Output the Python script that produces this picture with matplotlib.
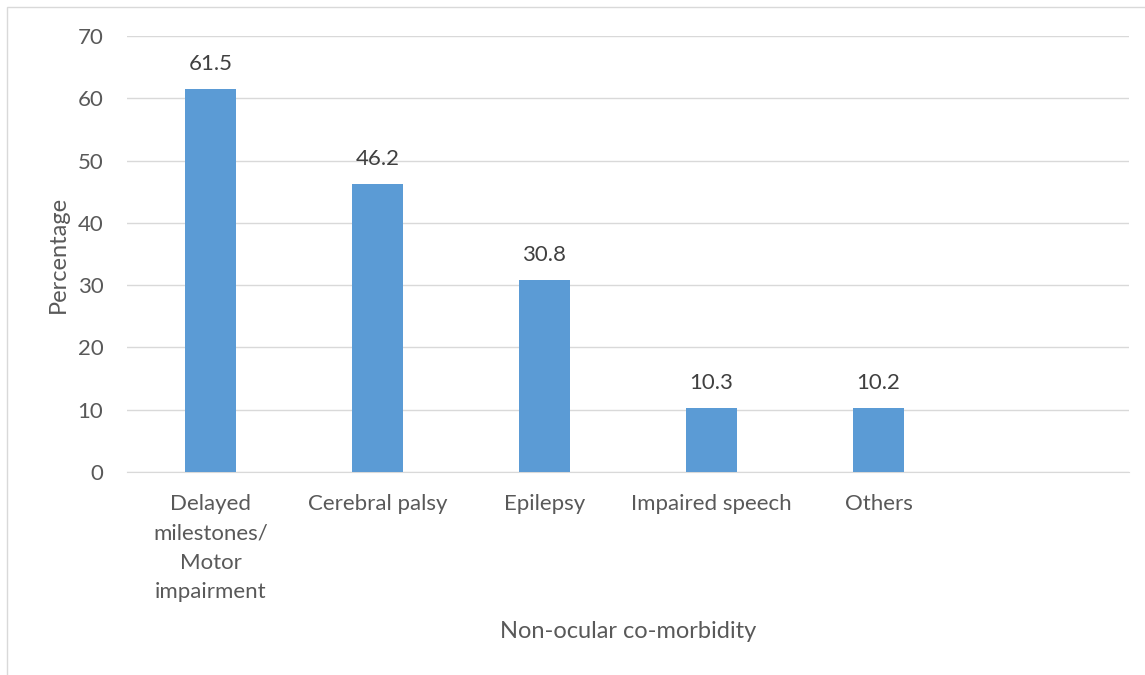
import matplotlib.pyplot as plt
from matplotlib.patches import Rectangle

categories = ["Delayed\nmilestones/\nMotor\nimpairment", "Cerebral palsy", "Epilepsy",
              "Impaired speech", "Others"]
percentages = [61.5, 46.2, 30.8, 10.3, 10.2]
n_slots = 6  # one empty slot on the right

plt.rcParams['font.family'] = ['Lato', 'DejaVu Sans']

W, H = 1145, 675
fig = plt.figure(figsize=(W / 100, H / 100), dpi=100)
ax = fig.add_axes([127 / W, 1 - 472 / H, (1129 - 127) / W, (472 - 36) / H])

# outer chart frame
fig.patches.append(Rectangle((7 / W, -0.1), 1.2, 1 - 7 / H + 0.1, transform=fig.transFigure,
                             fill=False, edgecolor='#d9d9d9', linewidth=1.0))

x = range(len(categories))
bars = ax.bar(x, percentages, width=0.31, color='#5b9bd5', zorder=3)
for b, v in zip(bars, percentages):
    ax.annotate(f"{v}", (b.get_x() + b.get_width() / 2, v), xytext=(0, 11),
                textcoords='offset points', ha='center', va='bottom',
                fontsize=16, color='#404040')

ax.set_xlim(-0.5, n_slots - 0.5)
ax.set_ylim(0, 70)
ax.set_yticks(range(0, 71, 10))
ax.yaxis.grid(True, color='#d9d9d9', linewidth=1.0, zorder=0)
ax.set_xticks(list(x))
ax.set_xticklabels(categories, linespacing=1.58, va='top')
ax.tick_params(axis='both', length=0, labelsize=16, labelcolor='#595959')
ax.tick_params(axis='x', pad=16)
ax.tick_params(axis='y', pad=17)
for s in ['top', 'right', 'left']:
    ax.spines[s].set_visible(False)
ax.spines['bottom'].set_color('#d9d9d9')

ax.set_ylabel("Percentage", fontsize=17, color='#595959', va='center')
ax.yaxis.set_label_coords(-69 / 1002, 0.5)
ax.set_xlabel("Non-ocular co-morbidity", fontsize=17, color='#595959', va='center')
ax.xaxis.set_label_coords(0.5, -160 / 436)

fig.savefig("out.png", dpi=100)
